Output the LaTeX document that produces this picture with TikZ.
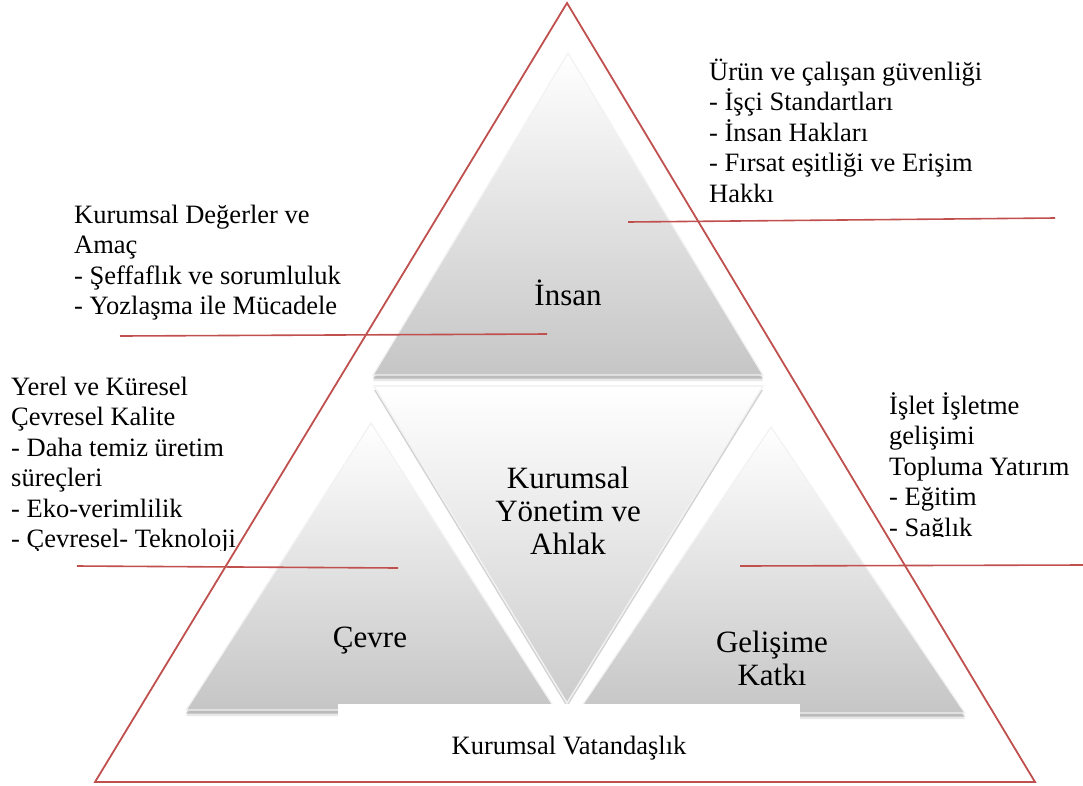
\documentclass[tikz,border=0pt]{standalone}
\usepackage{fontspec}
\setmainfont{Liberation Serif}
\usetikzlibrary{shadows}

% stacked lines whose baseline is the baseline of the first line
\newcommand{\linesleft}[1]{\vtop{\halign{##\hfil\cr #1\crcr}}}
\newcommand{\linescenter}[1]{\vtop{\halign{\hfil##\hfil\cr #1\crcr}}}

\definecolor{accent}{HTML}{C0504D}

\begin{document}
\begin{tikzpicture}[x=1pt,y=-1pt,
  facet/.style={top color=white, bottom color=gray!45, draw=gray!55, line width=0.8pt,
    drop shadow={shadow xshift=0pt, shadow yshift=-6pt, opacity=0.15, fill=gray!80!black},
    drop shadow={shadow xshift=0pt, shadow yshift=-3.5pt, opacity=0.35, fill=gray!80!black}},
  facetinv/.style={top color=white, bottom color=gray!40, draw=gray!55, line width=0.8pt,
    drop shadow={shadow xshift=0pt, shadow yshift=-4pt, opacity=0.3, fill=gray!80!black}},
  bevel/.style={draw=white, line width=1.4pt, opacity=0.8},
  frame/.style={draw=accent, line width=1.8pt, line join=miter},
  leader/.style={draw=accent, line width=1.6pt},
  sidetext/.style={anchor=base west, inner sep=0pt, font=\fontsize{26.5}{30.5}\selectfont},
  facettext/.style={anchor=base, inner sep=0pt, font=\fontsize{31}{33}\selectfont},
]
\useasboundingbox (0,0) rectangle (1083,785);

% corner points of the four facets
\coordinate (iA) at (568,53);  \coordinate (iL) at (373,375); \coordinate (iR) at (763,375);
\coordinate (cL) at (374,386); \coordinate (cR) at (763,386); \coordinate (cB) at (567,703);
\coordinate (eA) at (371,423); \coordinate (eL) at (186,710); \coordinate (eR) at (556,710);
\coordinate (gA) at (771,427); \coordinate (gL) at (577,713); \coordinate (gR) at (965,713);

% shaded facets
\path[facet] (iA) -- (iL) -- (iR) -- cycle;
\path[facetinv] (cL) -- (cR) -- (cB) -- cycle;
\path[facet] (eA) -- (eL) -- (eR) -- cycle;
\path[facet] (gA) -- (gL) -- (gR) -- cycle;

% light bevel just inside each facet edge
\draw[bevel, scale around={0.955:(568,268)}] (iA) -- (iL) -- (iR) -- cycle;
\draw[bevel, scale around={0.955:(568,492)}] (cL) -- (cR) -- (cB) -- cycle;
\draw[bevel, scale around={0.95:(371,614)}] (eA) -- (eL) -- (eR) -- cycle;
\draw[bevel, scale around={0.95:(771,618)}] (gA) -- (gL) -- (gR) -- cycle;

% white band across the bottom
\node[fill=white, inner sep=0pt, minimum width=462pt, minimum height=75pt, anchor=north west]
  (band) at (338,704) {};

% outer red triangle
\coordinate (rA) at (567,3); \coordinate (rL) at (95,782); \coordinate (rR) at (1035,782);
\draw[frame] (rA) -- (rL) -- (rR) -- cycle;

% leader lines
\coordinate (l1a) at (120,336); \coordinate (l1b) at (547,334);
\coordinate (l2a) at (628,222); \coordinate (l2b) at (1055,218);
\coordinate (l3a) at (77,566);  \coordinate (l3b) at (398,568);
\coordinate (l4a) at (740,566); \coordinate (l4b) at (1083,565);
\draw[leader] (l1a) -- (l1b);
\draw[leader] (l2a) -- (l2b);
\draw[leader] (l3a) -- (l3b);
\draw[leader] (l4a) -- (l4b);

% facet labels
\node[facettext] (insan) at (568,305) {İnsan};
\node[facettext] (yonetim) at (568,488) {\linescenter{Kurumsal\cr Yönetim ve\cr Ahlak}};
\node[facettext] (cevre) at (370,647) {Çevre};
\node[facettext] (katki) at (772,652) {\linescenter{Gelişime\cr Katkı}};
\node[anchor=base, inner sep=0pt, font=\fontsize{26.5}{30.5}\selectfont] (vatan) at (569,754) {Kurumsal Vatandaşlık};

% side texts
\node[sidetext] (txtinsan) at (709,80) {\linesleft{Ürün ve çalışan güvenliği\cr
  - İşçi Standartları\cr - İnsan Hakları\cr - Fırsat eşitliği ve Erişim\cr Hakkı}};
\node[sidetext] (txtdeger) at (74,223) {\linesleft{Kurumsal Değerler ve\cr Amaç\cr
  - Şeffaflık ve sorumluluk\cr - Yozlaşma ile Mücadele}};
\begin{scope}
  \clip (0,0) rectangle (1083,550);
  \node[sidetext] (txtcevre) at (11,395) {\linesleft{Yerel ve Küresel\cr Çevresel Kalite\cr
    - Daha temiz üretim\cr süreçleri\cr - Eko-verimlilik\cr - Çevresel- Teknoloji}};
\end{scope}
\begin{scope}
  \clip (0,0) rectangle (1083,536);
  \node[sidetext] (txtkatki) at (889,414) {\linesleft{İşlet İşletme\cr gelişimi\cr
    Topluma Yatırım\cr - Eğitim\cr - Sağlık}};
\end{scope}
\end{tikzpicture}
\end{document}
